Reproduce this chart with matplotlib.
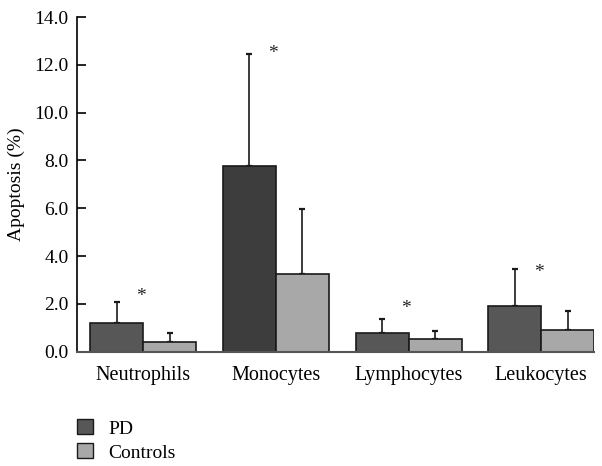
import matplotlib
matplotlib.use("Agg")
import matplotlib.pyplot as plt
import numpy as np
from matplotlib.patches import Patch

categories = ["Neutrophils", "Monocytes", "Lymphocytes", "Leukocytes"]
pd_values = [1.2, 7.78, 0.77, 1.93]
pd_err = [0.88, 4.67, 0.59, 1.52]
ctrl_values = [0.41, 3.24, 0.52, 0.91]
ctrl_err = [0.39, 2.73, 0.36, 0.81]
star_y = [2.29, 12.47, 1.79, 3.33]
yticks = [0.0, 2.0, 4.0, 6.0, 8.0, 10.0, 12.0, 14.0]

pd_colors = ["#575757", "#3d3d3d", "#575757", "#575757"]
ctrl_color = "#a8a8a8"

plt.rcParams['font.family'] = ['Liberation Serif', 'DejaVu Serif']

fig = plt.figure(figsize=(6.02, 4.66), dpi=100)
ax = fig.add_axes([0.128, 0.2453, 0.859, 0.7182])

x = np.arange(len(categories))
w = 0.4
ax.bar(x - w / 2, pd_values, w, color=pd_colors, edgecolor="#1a1a1a", linewidth=1.2, zorder=2)
ax.bar(x + w / 2, ctrl_values, w, color=ctrl_color, edgecolor="#1a1a1a", linewidth=1.2, zorder=2)
ax.errorbar(x - w / 2, pd_values, yerr=[np.zeros(4), pd_err], fmt="none", ecolor="#1a1a1a",
            elinewidth=1.2, capsize=2.2, capthick=1.6, zorder=1)
ax.errorbar(x + w / 2, ctrl_values, yerr=[np.zeros(4), ctrl_err], fmt="none", ecolor="#1a1a1a",
            elinewidth=1.2, capsize=2.2, capthick=1.6, zorder=1)
for xi, sy in zip(x, star_y):
    ax.text(xi - 0.02, sy, "*", ha="center", va="center", fontsize=14, color="#222222")

ax.set_xlim(-0.5, 3.4)
ax.set_ylim(0, 14)
ax.set_yticks(yticks)
ax.set_yticklabels([f"{t:.1f}" for t in yticks], fontsize=14)
ax.set_xticks(x)
ax.set_xticklabels(categories, fontsize=14.5)
ax.tick_params(axis="x", length=0, pad=10)
ax.tick_params(axis="y", direction="in", length=6.5, width=1.2, pad=6)
ax.spines["top"].set_visible(False)
ax.spines["right"].set_visible(False)
ax.spines["left"].set_linewidth(1.2)
ax.spines["bottom"].set_linewidth(1.5)
ax.spines["bottom"].set_color("#555555")
ax.set_ylabel("Apoptosis (%)", fontsize=14, labelpad=7)

handles = [Patch(facecolor="#575757", edgecolor="#1a1a1a", label="PD"),
           Patch(facecolor=ctrl_color, edgecolor="#1a1a1a", label="Controls")]
fig.legend(handles=handles, loc="upper left", bbox_to_anchor=(0.128, 0.1), frameon=False,
           fontsize=14, handlelength=0.8, handleheight=0.8, labelspacing=0.3, handletextpad=0.8,
           borderaxespad=0, borderpad=0)

fig.savefig("out.png", dpi=100)
